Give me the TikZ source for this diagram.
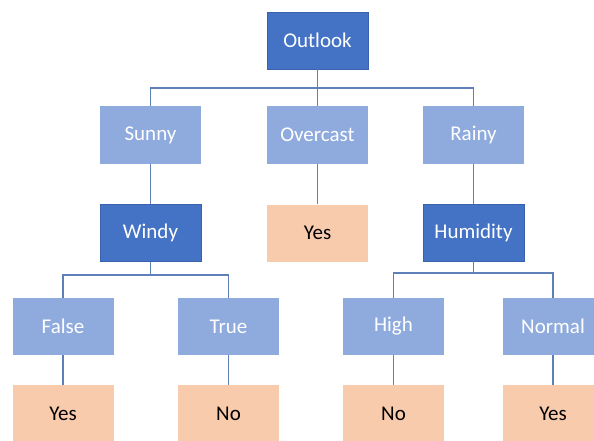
\documentclass[tikz,border=0pt]{standalone}
\usepackage{fontspec}
\setmainfont{Carlito}
\begin{document}
\begin{tikzpicture}[x=1pt,y=-1pt,
  box/.style={minimum width=101pt,minimum height=57pt,inner sep=0pt,
    font=\fontsize{21}{25}\selectfont},
  attr/.style={box,fill=darkblue,draw=darkblueedge,line width=0.6pt,text=white},
  val/.style={box,fill=lightblue,text=white},
  leaf/.style={box,fill=peach,text=black},
  link/.style={draw=linkblue,line width=1.2pt}]
\definecolor{darkblue}{HTML}{4472C4}
\definecolor{darkblueedge}{HTML}{3A62AC}
\definecolor{lightblue}{HTML}{8FAADC}
\definecolor{peach}{HTML}{F8CBAD}
\definecolor{linkblue}{HTML}{5F7FB8}
\clip (0,0) rectangle (594,441);
\fill[white] (0,0) rectangle (594,441);

% root
\node[attr] (outlook) at (317.5,40.5) {Outlook};
% first level values
\node[val] (sunny) at (150.5,135) {Sunny};
\node[val] (overcast) at (317.5,135) {Overcast};
\node[val] (rainy) at (473.5,135) {Rainy};
% second level
\node[attr] (windy) at (150.5,233) {Windy};
\node[leaf] (yesA) at (317.5,233) {Yes};
\node[attr] (humidity) at (473.5,232.5) {Humidity};
% third level values
\node[val] (false) at (63,326.5) {False};
\node[val] (true) at (228.5,326.5) {True};
\node[val] (high) at (393.5,326.5) {High};
\node[val] (normal) at (553,326.5) {Normal};
% leaves
\node[leaf] (yesB) at (63,413.5) {Yes};
\node[leaf] (noA) at (228.5,413.5) {No};
\node[leaf] (noB) at (393.5,413.5) {No};
\node[leaf] (yesC) at (553,413.5) {Yes};

% buses
\coordinate (b1) at (317.5,88);
\coordinate (b2) at (150.5,275);
\coordinate (b3) at (473.5,273);

\draw[link] (outlook.south) -- (b1);
\draw[link] (sunny.north) |- (b1) -| (rainy.north);
\draw[link] (b1) -- (overcast.north);
\draw[link] (sunny.south) -- (windy.north);
\draw[link] (overcast.south) -- (yesA.north);
\draw[link] (rainy.south) -- (humidity.north);

\draw[link] (windy.south) -- (b2);
\draw[link] (false.north) |- (b2) -| (true.north);
\draw[link] (humidity.south) -- (b3);
\draw[link] (high.north) |- (b3) -| (normal.north);

\draw[link] (false.south) -- (yesB.north);
\draw[link] (true.south) -- (noA.north);
\draw[link] (high.south) -- (noB.north);
\draw[link] (normal.south) -- (yesC.north);
\end{tikzpicture}
\end{document}
